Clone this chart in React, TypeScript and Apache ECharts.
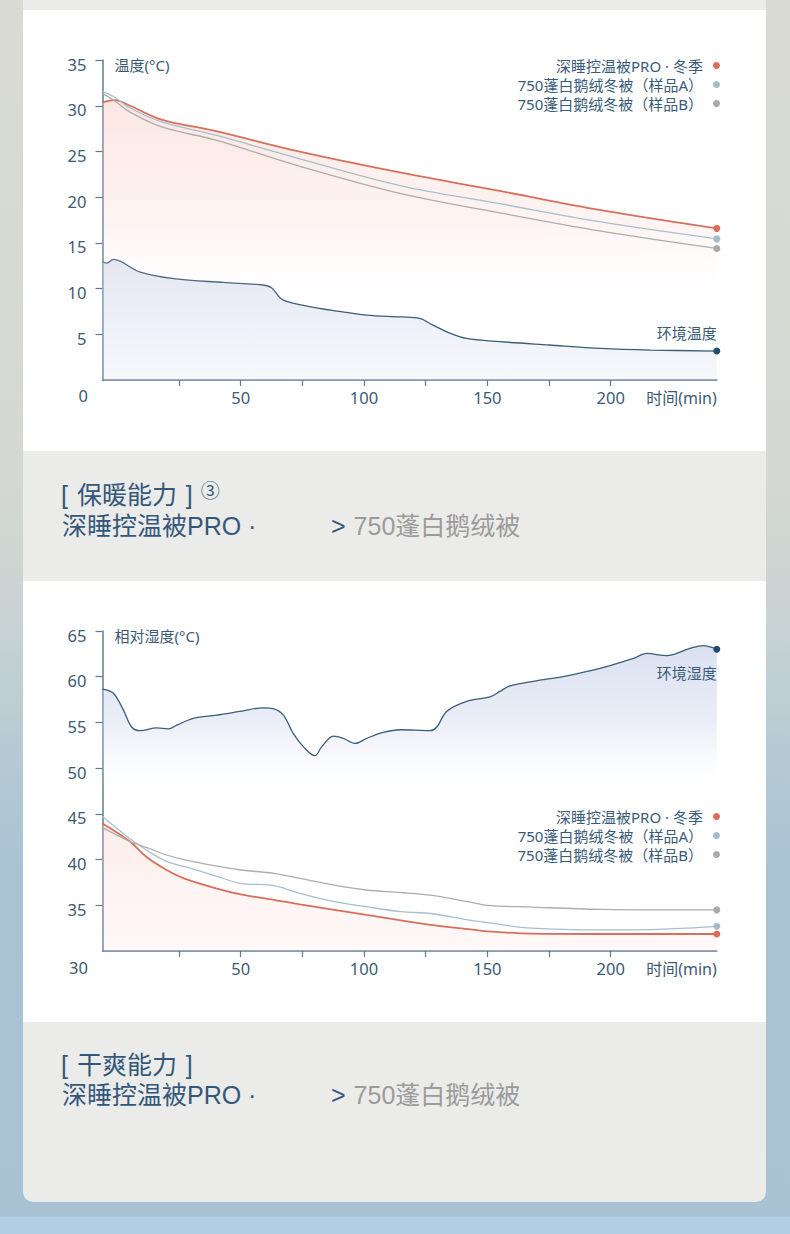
import React, { useEffect, useRef } from "react";
import * as echarts from "echarts";

// ---------- data ----------
// Warmth chart (temperature °C vs time min)
const warmTime = [-6, -1, 5, 18, 40, 74, 115, 155, 196, 243];
const warmPro = [30.4, 30.65, 30.05, 28.5, 27.25, 25.0, 22.7, 20.7, 18.6, 16.6];
const warmA = [31.6, 30.95, 29.8, 28.25, 26.8, 24.2, 21.25, 19.3, 17.3, 15.45];
const warmB = [31.35, 30.55, 29.35, 27.7, 26.25, 23.4, 20.4, 18.3, 16.3, 14.4];
const envTempTime = [-6, -4.3, -1.6, 9, 23, 43, 59, 62.5, 67, 77, 89, 101, 115, 122.5, 128, 135, 141.5, 155, 175, 196, 216, 243];
const envTemp = [12.95, 12.8, 13.2, 11.85, 11.1, 10.68, 10.4, 10.1, 8.8, 8.1, 7.55, 7.1, 6.9, 6.75, 6.0, 5.1, 4.55, 4.2, 3.83, 3.46, 3.28, 3.17];

// Dryness chart (relative humidity vs time min)
const dryTime = [-6, 5, 12, 20, 27, 40, 50, 63.5, 74, 88, 101, 115, 127, 142, 150, 168, 196, 222, 243];
const dryPro = [43.95, 42.0, 40.25, 38.86, 37.95, 36.86, 36.2, 35.6, 35.1, 34.5, 33.94, 33.35, 32.85, 32.4, 32.15, 31.9, 31.86, 31.86, 31.86];
const dryA = [44.7, 42.3, 41.0, 39.8, 39.25, 38.2, 37.4, 37.15, 36.3, 35.4, 34.85, 34.3, 34.1, 33.4, 33.1, 32.5, 32.3, 32.4, 32.7];
const dryB = [43.5, 42.0, 41.3, 40.5, 40.0, 39.3, 38.86, 38.5, 37.95, 37.2, 36.67, 36.4, 36.1, 35.4, 35.0, 34.8, 34.55, 34.5, 34.5];
const envHumTime = [-6, -1.6, 2.4, 5.8, 9.2, 16, 20.7, 24.1, 30.8, 40.3, 49.7, 59.2, 63.2, 67.3, 71.3, 75.4, 80.1, 82.9, 87.6, 91.6, 96.4, 101.1, 107.8, 114.6, 126.8, 129.5, 133.5, 141.6, 151.1, 155.1, 159.2, 168.6, 182.2, 195.7, 209.2, 214.6, 222.7, 232.1, 237.5, 243];
const envHum = [58.65, 58.2, 56.4, 54.5, 54.1, 54.4, 54.3, 54.7, 55.45, 55.8, 56.2, 56.6, 56.5, 55.8, 53.8, 52.35, 51.36, 52.35, 53.5, 53.26, 52.7, 53.26, 53.9, 54.2, 54.1, 54.5, 56.2, 57.3, 57.8, 58.4, 59.0, 59.5, 60.1, 60.9, 62.0, 62.55, 62.3, 63.1, 63.4, 63.0];

const xTickValues = [25, 50, 75, 100, 125, 150, 175, 200];
const xLabelValues = [50, 100, 150, 200];
const tempTicks = [5, 10, 15, 20, 25, 30, 35];
const humTicks = [35, 40, 45, 50, 55, 60, 65];
const seriesNames = ["深睡控温被PRO · 冬季", "750蓬白鹅绒冬被（样品A）", "750蓬白鹅绒冬被（样品B）"];

// ---------- styles ----------
const AXIS = "#5f7b91";
const TEXT = "#3d5a73";
const FONT = '"Noto Sans", "Noto Sans CJK SC", sans-serif';
const RED = "#d6705d";
const RED_DOT = "#db6e5a";
const BLUE = "#a7bfcd";
const BLUE_DOT = "#a3bccb";
const GREY = "#adadad";
const GREY_DOT = "#a9a9a9";
const ENV = "#3c5d78";
const ENV_DOT = "#204b73";

const zip = (ts: number[], vs: number[]) => ts.map((t, i) => [t, vs[i]]);
const lastOnly = (n: number, size: number) => (_v: any, p: any) => (p.dataIndex === n - 1 ? size : 0);

function lineSeries(name: string, ts: number[], vs: number[], color: string, dot: string, width: number, z: number, extra: any = {}) {
  return {
    type: "line",
    name,
    data: zip(ts, vs),
    smooth: 0.35,
    symbol: "circle",
    symbolSize: lastOnly(ts.length, 7),
    showAllSymbol: true,
    lineStyle: { color, width },
    itemStyle: { color: dot, borderWidth: 0 },
    emphasis: { disabled: true },
    z,
    ...extra,
  };
}

function buildOption(cfg: any) {
  return {
    animation: false,
    textStyle: { fontFamily: FONT },
    grid: { left: 79.5, right: 49.2, top: cfg.gridTop, bottom: 71 },
    legend: {
      data: seriesNames,
      orient: "vertical",
      right: 41,
      top: cfg.legendTop,
      align: "right",
      icon: "circle",
      itemWidth: 7,
      itemHeight: 7,
      itemGap: 4,
      selectedMode: false,
      textStyle: { fontSize: 15, color: "#3a5b78", fontFamily: FONT, padding: [0, 5, 0, 0] },
    },
    xAxis: {
      type: "value",
      min: -6,
      max: 243,
      splitLine: { show: false },
      axisLine: { show: true, onZero: false, lineStyle: { color: AXIS, width: 1.5 } },
      axisTick: { show: true, customValues: xTickValues, length: 6, lineStyle: { color: AXIS, width: 1.2 } },
      axisLabel: { customValues: xLabelValues, fontSize: 16.5, color: TEXT, margin: 9, fontFamily: FONT },
      name: "时间(min)",
      nameLocation: "end",
      nameGap: 0,
      nameTextStyle: { align: "right", verticalAlign: "top", padding: [10, 0, 0, 0], fontSize: 16, color: TEXT, fontFamily: FONT },
    },
    yAxis: {
      type: "value",
      min: cfg.yMin,
      max: cfg.yMax,
      splitLine: { show: false },
      axisLine: { show: true, onZero: false, lineStyle: { color: AXIS, width: 1.5 } },
      axisTick: { show: true, customValues: cfg.yTicks, length: 7, lineStyle: { color: AXIS, width: 1.2 } },
      axisLabel: {
        customValues: cfg.yTicks,
        fontSize: 16.5,
        color: TEXT,
        margin: 16,
        verticalAlign: "top",
        lineHeight: 8,
        fontFamily: FONT,
      },
      name: cfg.yName,
      nameLocation: "end",
      nameGap: -5,
      nameTextStyle: { align: "left", verticalAlign: "middle", padding: [0, 0, 0, 12], fontSize: 15, color: TEXT, fontFamily: FONT },
    },
    graphic: [
      {
        type: "text",
        x: 65,
        y: cfg.originY,
        style: { text: String(cfg.yMin), fontSize: 16.5, fill: TEXT, align: "right", verticalAlign: "middle", fontFamily: FONT },
      },
    ],
    series: cfg.series,
  };
}

function envLabel(n: number, text: string, position: string, distance: number) {
  return {
    show: true,
    position,
    distance,
    align: "right",
    fontSize: 15,
    color: "#3a5b78",
    fontFamily: FONT,
    formatter: (p: any) => (p.dataIndex === n - 1 ? text : ""),
  };
}

function warmOption() {
  const redArea = new echarts.graphic.LinearGradient(0, 0, 0, 1, [
    { offset: 0, color: "rgba(245,190,180,0.55)" },
    { offset: 0.45, color: "rgba(250,212,205,0.35)" },
    { offset: 0.75, color: "rgba(255,255,255,0)" },
  ]);
  const envArea = new echarts.graphic.LinearGradient(0, 0, 0, 1, [
    { offset: 0, color: "rgba(196,205,230,0.75)" },
    { offset: 1, color: "rgba(222,227,243,0.35)" },
  ]);
  return buildOption({
    gridTop: 50.3,
    legendTop: 43,
    yMin: 0,
    yMax: 35,
    yTicks: tempTicks,
    yName: "温度(°C)",
    originY: 385,
    series: [
      lineSeries(seriesNames[0], warmTime, warmPro, RED, RED_DOT, 1.8, 4, { areaStyle: { color: redArea } }),
      lineSeries("环境温度", envTempTime, envTemp, ENV, ENV_DOT, 1.3, 3, {
        areaStyle: { color: envArea },
        label: envLabel(envTempTime.length, "环境温度", "top", 7),
      }),
      lineSeries(seriesNames[1], warmTime, warmA, BLUE, BLUE_DOT, 1.3, 5),
      lineSeries(seriesNames[2], warmTime, warmB, GREY, GREY_DOT, 1.3, 5),
    ],
  });
}

function dryOption() {
  const redArea = new echarts.graphic.LinearGradient(0, 0, 0, 1, [
    { offset: 0, color: "rgba(249,205,198,0.5)" },
    { offset: 1, color: "rgba(251,222,218,0.3)" },
  ]);
  const envArea = new echarts.graphic.LinearGradient(0, 0, 0, 1, [
    { offset: 0, color: "rgba(185,196,226,0.75)" },
    { offset: 0.25, color: "rgba(205,213,235,0.6)" },
    { offset: 0.5, color: "rgba(255,255,255,0)" },
  ]);
  return buildOption({
    gridTop: 50,
    legendTop: 223,
    yMin: 30,
    yMax: 65,
    yTicks: humTicks,
    yName: "相对湿度(°C)",
    originY: 386,
    series: [
      lineSeries("环境湿度", envHumTime, envHum, ENV, ENV_DOT, 1.3, 2, {
        areaStyle: { color: envArea },
        label: envLabel(envHumTime.length, "环境湿度", "bottom", 13),
      }),
      lineSeries(seriesNames[0], dryTime, dryPro, RED, RED_DOT, 1.8, 4, { areaStyle: { color: redArea } }),
      lineSeries(seriesNames[1], dryTime, dryA, BLUE, BLUE_DOT, 1.3, 5),
      lineSeries(seriesNames[2], dryTime, dryB, GREY, GREY_DOT, 1.3, 5),
    ],
  });
}

function Chart({ option, style }: { option: () => any; style: React.CSSProperties }) {
  const ref = useRef<HTMLDivElement>(null);
  useEffect(() => {
    if (!ref.current) return;
    const chart = echarts.init(ref.current, undefined, { renderer: "svg" });
    chart.setOption(option());
    return () => chart.dispose();
  }, [option]);
  return <div ref={ref} style={style} />;
}

const PANEL_FONT = '"Liberation Sans", "Noto Sans CJK SC", sans-serif';
const PANEL_BLUE = "#33587a";
const PANEL_GREY = "#9b9b9b";

function Panel({ top, title, mark, gap }: { top: number; title: string; mark?: string; gap: number }) {
  const base: React.CSSProperties = {
    position: "absolute",
    fontFamily: PANEL_FONT,
    fontSize: 25,
    lineHeight: "30px",
    height: 30,
    whiteSpace: "nowrap",
    color: PANEL_BLUE,
  };
  return (
    <>
      <div style={{ ...base, left: 61, top: top, wordSpacing: 2 }}>
        {title}
        {mark ? (
          <span style={{ fontSize: 19, position: "relative", top: -6, marginLeft: 8 }}>{mark}</span>
        ) : null}
      </div>
      <div style={{ ...base, left: 62, top: top + gap }}>深睡控温被PRO ·</div>
      <div style={{ ...base, left: 331, top: top + gap }}>
        &gt;<span style={{ color: PANEL_GREY, marginLeft: 8 }}>750蓬白鹅绒被</span>
      </div>
    </>
  );
}

export default function App() {
  useEffect(() => {
    document.body.style.margin = "0";
  }, []);
  return (
    <div
      style={{
        position: "relative",
        width: 790,
        height: 1234,
        overflow: "hidden",
        background:
          "linear-gradient(to bottom, #d9dad4 0%, #d5d8d2 38%, #c9d3d3 50%, #b4c9d3 62%, #aac3d3 70%, #a8c2d4 100%)",
      }}
    >
      <div style={{ position: "absolute", left: 0, top: 1217, width: 790, height: 17, background: "#b3cee2" }} />
      <div style={{ position: "absolute", left: 23, top: 0, width: 743, height: 10, background: "#ebebe9" }} />
      <Chart option={warmOption} style={{ position: "absolute", left: 23, top: 10, width: 743, height: 441, background: "#ffffff" }} />
      <div style={{ position: "absolute", left: 23, top: 451, width: 743, height: 130, background: "#ebebea" }} />
      <Chart option={dryOption} style={{ position: "absolute", left: 23, top: 581, width: 743, height: 441, background: "#ffffff" }} />
      <div
        style={{
          position: "absolute",
          left: 23,
          top: 1022,
          width: 743,
          height: 180,
          background: "#ebebea",
          borderRadius: "0 0 10px 10px",
        }}
      />
      <Panel top={480} title="[ 保暖能力 ]" mark="③" gap={31} />
      <Panel top={1050} title="[ 干爽能力 ]" gap={30} />
    </div>
  );
}
